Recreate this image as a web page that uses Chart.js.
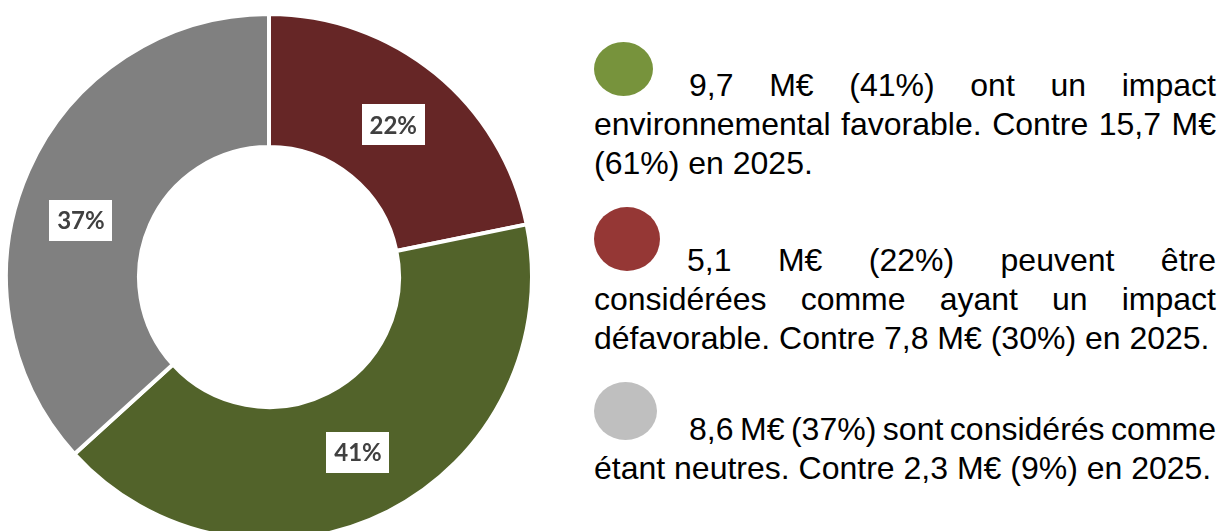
<!DOCTYPE html>
<html lang="fr">
<head>
<meta charset="utf-8">
<script src="https://cdn.jsdelivr.net/npm/chart.js@4.4.1/dist/chart.umd.min.js"></script>
<style>
  html, body { margin: 0; padding: 0; background: #ffffff; width: 1223px; height: 531px; overflow: hidden; }
  #chartBox { position: absolute; left: 4px; top: 12px; width: 530px; height: 530px; }
  .para { position: absolute; left: 594px; width: 622px; font-family: "Liberation Sans", Arial, sans-serif;
          font-size: 32px; line-height: 39px; color: #000; text-align: justify; }
  .dot { display: inline-block; border-radius: 50%; vertical-align: baseline; }
  .tight::first-line { word-spacing: -3px; }
</style>
</head>
<body>
<div id="chartBox"><canvas id="c"></canvas></div>
<div id="legend"></div>
<script>
// ---- data ----
const categories = ["Impact défavorable", "Impact favorable", "Neutre"];
const amounts2026 = [5.1, 9.7, 8.6];          // M€
const amounts2025 = [7.8, 15.7, 2.3];          // M€
const percents2025 = [30, 61, 9];
const sliceColors = ["#662626", "#52632a", "#808080"];
const dotColors = ["#953735", "#77933c", "#bfbfbf"];
const legendTexts = [
  "9,7 M€ (41%) ont un impact environnemental favorable. Contre 15,7 M€ (61%) en 2025.",
  "5,1 M€ (22%) peuvent être considérées comme ayant un impact défavorable. Contre 7,8 M€ (30%) en 2025.",
  "8,6 M€ (37%) sont considérés comme étant neutres. Contre 2,3 M€ (9%) en 2025."
];
const legendOrder = [1, 0, 2];

// ---- legend (HTML text) ----
const legendLayout = [
  { top: 42,  w: 59, h: 54, gap: 36, cls: '' },
  { top: 207, w: 66, h: 64, gap: 27, cls: '' },
  { top: 382, w: 63, h: 58, gap: 32, cls: 'tight' }
];
const legendEl = document.getElementById('legend');
legendOrder.forEach((idx, i) => {
  const p = document.createElement('div');
  p.className = 'para ' + legendLayout[i].cls;
  p.style.top = legendLayout[i].top + 'px';
  const d = document.createElement('span');
  d.className = 'dot';
  d.style.width = legendLayout[i].w + 'px';
  d.style.height = legendLayout[i].h + 'px';
  d.style.marginRight = legendLayout[i].gap + 'px';
  d.style.background = dotColors[idx];
  p.appendChild(d);
  p.appendChild(document.createTextNode(legendTexts[i]));
  legendEl.appendChild(p);
});

// ---- percent labels plugin ----
const total = amounts2026.reduce((a, b) => a + b, 0);
const pctLabels = amounts2026.map(v => Math.round(v / total * 100) + '%');
const labelAngleNudge = [0, 0, -7];   // degrees

const boxLabels = {
  id: 'boxLabels',
  afterDatasetsDraw(chart) {
    const ctx = chart.ctx;
    const meta = chart.getDatasetMeta(0);
    ctx.save();
    ctx.font = 'bold 24px Lato, "Open Sans", sans-serif';
    ctx.textAlign = 'center';
    ctx.textBaseline = 'middle';
    meta.data.forEach((arc, i) => {
      const p = arc.getProps(['x', 'y', 'startAngle', 'endAngle', 'innerRadius', 'outerRadius'], true);
      const a = (p.startAngle + p.endAngle) / 2 + labelAngleNudge[i] * Math.PI / 180;
      const r = (p.innerRadius + p.outerRadius) / 2;
      const x = p.x + Math.cos(a) * r, y = p.y + Math.sin(a) * r;
      const bw = 63, bh = 41;
      ctx.fillStyle = '#ffffff';
      ctx.fillRect(Math.round(x - bw / 2), Math.round(y - bh / 2), bw, bh);
      ctx.fillStyle = '#404040';
      ctx.fillText(pctLabels[i], x, y + 1);
    });
    ctx.restore();
  }
};

new Chart(document.getElementById('c'), {
  type: 'doughnut',
  data: {
    labels: categories,
    datasets: [{
      data: amounts2026,
      backgroundColor: sliceColors,
      borderColor: '#ffffff',
      borderWidth: 4,
      radius: 263,
      cutout: 130
    }]
  },
  options: {
    responsive: true,
    maintainAspectRatio: false,
    animation: false,
    rotation: 0,
    layout: { padding: 0 },
    plugins: { legend: { display: false }, tooltip: { enabled: false } }
  },
  plugins: [boxLabels]
});
</script>
</body>
</html>
